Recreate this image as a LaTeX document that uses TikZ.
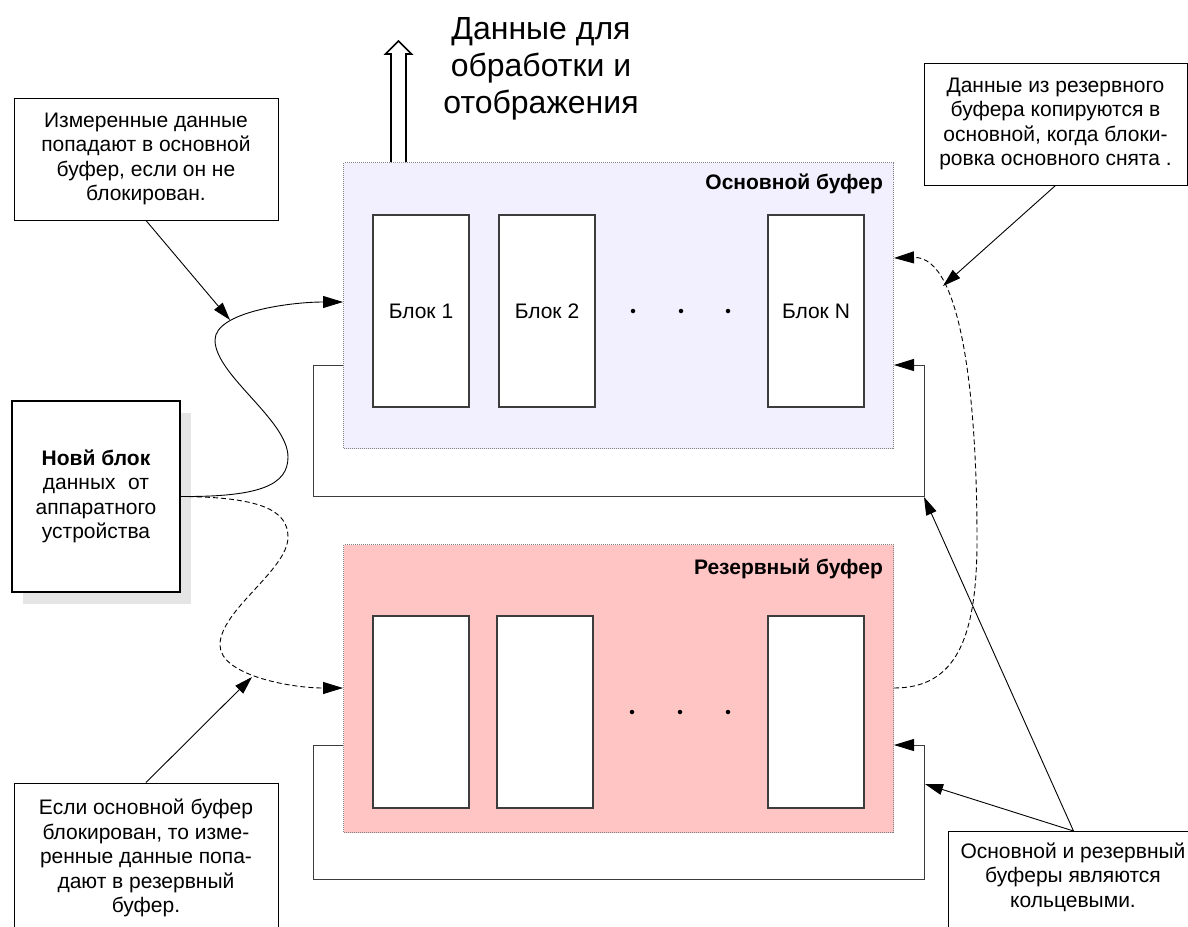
\documentclass[tikz,border=0pt]{standalone}
\usepackage{fontspec}
\setmainfont{Liberation Sans}
\usetikzlibrary{arrows.meta,calc}
\definecolor{mainfill}{RGB}{242,240,254}
\definecolor{resfill}{RGB}{255,196,196}
\definecolor{shadowgray}{RGB}{229,229,229}
\definecolor{edgegray}{RGB}{60,60,60}

\begin{document}
\begin{tikzpicture}[x=1pt,y=-1pt,
  txt/.style={font=\fontsize{21}{24.5}\selectfont},
  buffer/.style={draw=gray, dash pattern=on 1pt off 1pt, line width=1pt,
    anchor=north west, inner sep=0pt, minimum width=550pt},
  buftitle/.style={font=\bfseries\fontsize{21}{24}\selectfont, anchor=east, inner sep=0pt},
  block/.style={draw=edgegray, line width=1.2pt, fill=white, minimum width=96pt,
    minimum height=192pt, inner sep=0pt, txt},
  dot/.style={circle, fill=black, inner sep=0pt, minimum size=4.5pt},
  note/.style={draw=black, line width=1pt, fill=white, txt, align=center, inner sep=0pt},
  flow/.style={line width=0.9pt, -{Triangle[length=20pt,width=12pt,color=black]}},
  pointer/.style={line width=0.9pt, -{Triangle[length=18pt,width=11pt]}},
  loopline/.style={draw=edgegray, line width=1pt},
  dashflow/.style={flow, dash pattern=on 5pt off 3pt},
  ]
\useasboundingbox (0,0) rectangle (1188,926);
\clip (0,0) rectangle (1188,926);

% ---------- main buffer ----------
\node[buffer, fill=mainfill, minimum height=286pt] (mainbuf) at (343,162) {};
\node[buftitle] (maintitle) at (883,184) {Основной буфер};
\node[block] (m1) at (421,311) {Блок 1};
\node[block] (m2) at (547,311) {Блок 2};
\node[block] (mn) at (816,311) {Блок N};
\node[dot] (md1) at (633,311) {};
\node[dot] (md2) at (681,311) {};
\node[dot] (md3) at (728,311) {};

% ---------- reserve buffer ----------
\node[buffer, fill=resfill, minimum height=288pt] (resbuf) at (343,544) {};
\node[buftitle] (restitle) at (883,569) {Резервный буфер};
\node[block] (r1) at (421,712) {};
\node[block] (r2) at (545,712) {};
\node[block] (rn) at (816,712) {};
\node[dot] (rd1) at (632,712) {};
\node[dot] (rd2) at (680,712) {};
\node[dot] (rd3) at (728,712) {};

% ---------- ring loops ----------
\coordinate (mlL) at (313,365);
\coordinate (mlR) at (924,496);
\draw[loopline, flow] (mainbuf.west |- mlL) -- (mlL) |- (mlR) |- (mainbuf.east |- mlL);
\coordinate (rlL) at (313,745);
\coordinate (rlR) at (924,879);
\draw[loopline, flow] (resbuf.west |- rlL) -- (rlL) |- (rlR) |- (resbuf.east |- rlL);

% ---------- output arrow and its caption ----------
\draw[line width=1.6pt, fill=white, line join=miter]
  (391,162) -- (391,54) -- (385.5,54) -- (398.5,41) -- (411.5,54) -- (406,54) -- (406,162);
\node[font=\fontsize{32}{37}\selectfont, align=center] (outtitle) at (541,69)
  {Данные для\\обработки и\\отображения};

% ---------- data source ----------
\node[fill=shadowgray, minimum width=168pt, minimum height=191pt, inner sep=0pt]
  (shadow) at (107,508) {};
\node[note, line width=2pt, minimum width=168pt, minimum height=191pt] (newblk) at (96,496.5)
  {\textbf{Новй блок}\\данных\hspace{0.6em}от\\аппаратного\\устройства};

% ---------- entry paths ----------
\coordinate (mainIn) at (mainbuf.west |- 0,302);
\coordinate (resIn) at (resbuf.west |- 0,688);
\coordinate (s1) at (288,457);
\coordinate (s2) at (215,340);
\draw[flow] (newblk.east) .. controls (260,497) and (288,485) .. (s1)
  .. controls (288,420) and (215,375) .. (s2)
  .. controls (215,312) and (290,302) .. (mainIn);
\coordinate (d1) at (288,537);
\coordinate (d2) at (220,645);
\draw[dashflow] (newblk.east) .. controls (260,497) and (288,510) .. (d1)
  .. controls (288,570) and (220,610) .. (d2)
  .. controls (220,675) and (290,688) .. (resIn);

% ---------- copy path reserve -> main ----------
\coordinate (resOut) at (resbuf.east |- 0,688);
\coordinate (mainBack) at (mainbuf.east |- 0,258);
\coordinate (k1) at (977,540);
\draw[dashflow] (resOut) .. controls (955,688) and (977,640) .. (k1)
  .. controls (977,400) and (962,256) .. (mainBack);

% ---------- notes ----------
\node[note, minimum width=264pt, minimum height=122pt] (ntl) at (146,159)
  {Измеренные данные\\попадают в основной\\буфер, если он не\\блокирован.};
\node[note, minimum width=263pt, minimum height=122pt] (ntr) at (1055.5,124)
  {Данные из резервного\\буфера копируются в\\основной, когда блоки-\\ровка основного снята .};
\node[note, minimum width=264pt, minimum height=150pt] (nbl) at (146,858)
  {Если основной буфер\\блокирован, то изме-\\ренные данные попа-\\дают в резервный\\буфер.};
\node[note, minimum width=250pt, minimum height=110pt, anchor=north west] (nbr) at (948,831) {};
\node[txt, align=center] (nbrtext) at (1073,877)
  {Основной и резервный\\буферы являются\\кольцевыми.};

% ---------- note pointers ----------
\coordinate (tlTip) at (230,320);
\coordinate (blTip) at (252,677);
\coordinate (trTip) at (943,286);
\coordinate (brTip1) at (925,784);
\coordinate (brTip2) at (924,497);
\draw[pointer] (ntl.south) -- (tlTip);
\draw[pointer] (nbl.north) -- (blTip);
\draw[pointer] (ntr.south) -- (trTip);
\draw[pointer] (nbr.north) -- (brTip1);
\draw[pointer] (nbr.north) -- (brTip2);
\end{tikzpicture}
\end{document}
